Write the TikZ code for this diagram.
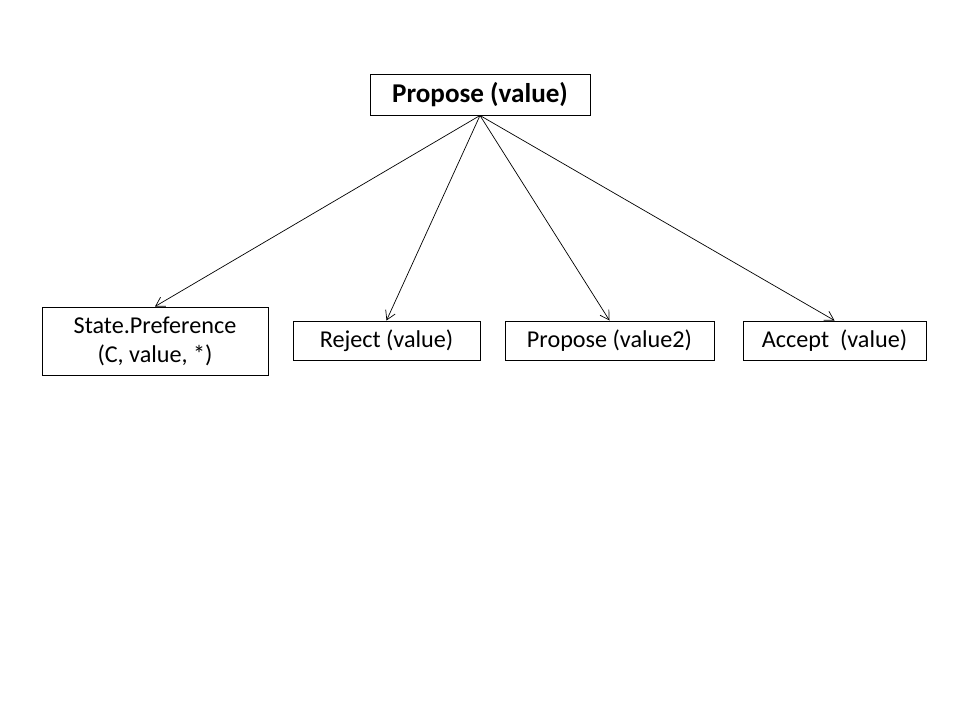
\documentclass[tikz,border=0pt]{standalone}
\usepackage{fontspec}
\setmainfont{Carlito}
\usetikzlibrary{arrows.meta}

\begin{document}
\begin{tikzpicture}[>={Straight Barb[length=2.2mm,width=2.6mm]},line cap=round,
  msgbox/.style={draw,line width=0.7pt,inner sep=0pt,align=center,font=\fontsize{17.2}{20.5}\selectfont}]
\useasboundingbox (0,0) rectangle (24,18);
\node[msgbox,minimum width=5.5cm,minimum height=1.025cm,font=\fontsize{19.3}{22}\selectfont\bfseries] (propose) at (12.0,15.6375) {Propose (value)};
\node[msgbox,minimum width=5.65cm,minimum height=1.7cm] (pref) at (3.875,9.475) {State.Preference\\(C, value, *)};
\node[msgbox,minimum width=4.675cm,minimum height=0.975cm] (reject) at (9.6625,9.4875) {Reject (value)};
\node[msgbox,minimum width=5.225cm,minimum height=0.975cm] (propose2) at (15.2375,9.4875) {Propose (value2)};
\node[msgbox,minimum width=4.575cm,minimum height=0.975cm] (accept) at (20.8625,9.4875) {Accept\ \ (value)};
\draw[->,line width=0.5pt] (propose.south) -- (pref.north);
\draw[->,line width=0.5pt] (propose.south) -- (reject.north);
\draw[->,line width=0.5pt] (propose.south) -- (propose2.north);
\draw[->,line width=0.5pt] (propose.south) -- (accept.north);
\end{tikzpicture}
\end{document}
